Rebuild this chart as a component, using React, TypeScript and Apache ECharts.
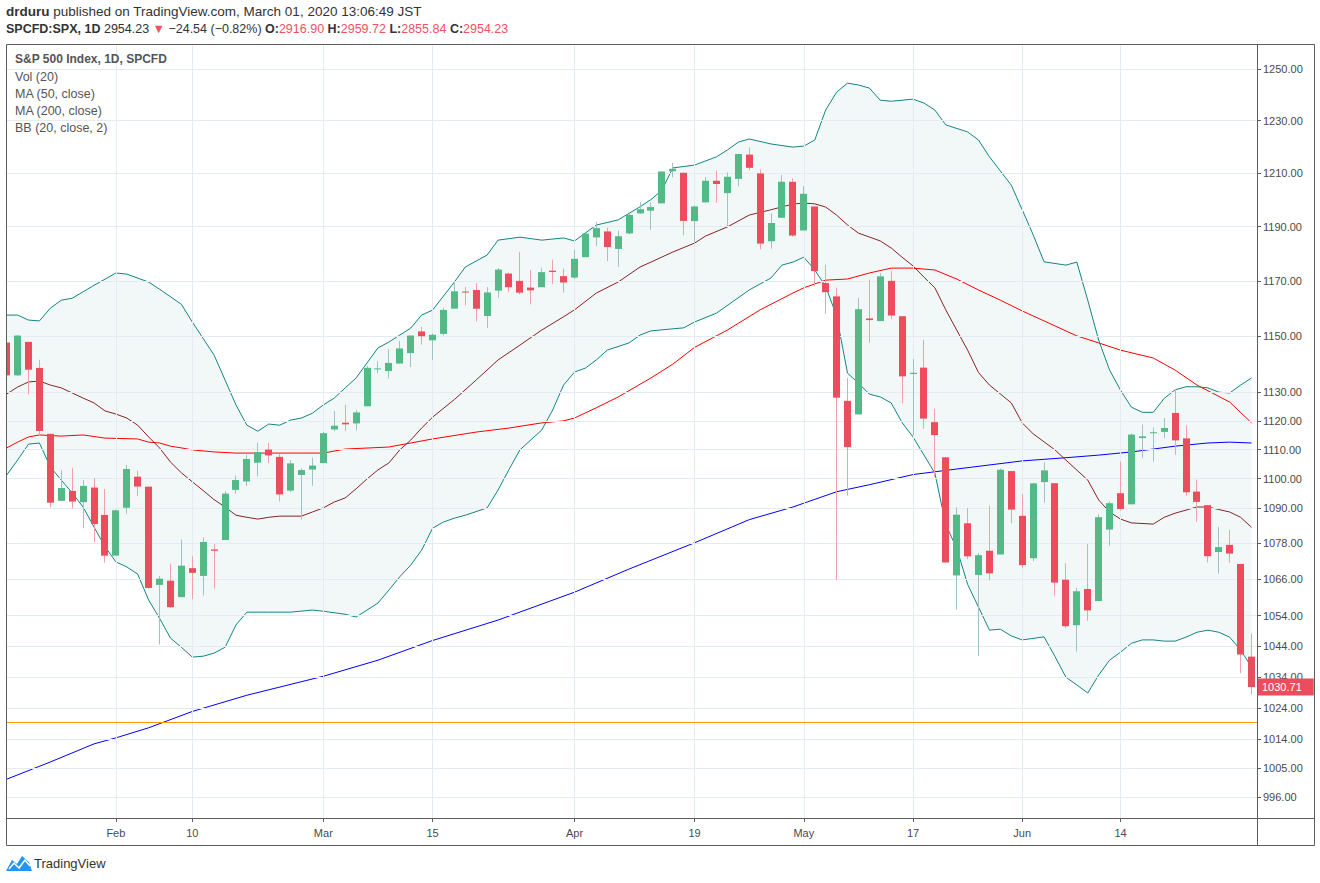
import React, { useEffect, useRef } from 'react';
import * as echarts from 'echarts';

// ---- trading sessions (2010) ----
const janDays = [15, 19, 20, 21, 22, 25, 26, 27, 28, 29];
const febDays = [1, 2, 3, 4, 5, 8, 9, 10, 11, 12, 16, 17, 18, 19, 22, 23, 24, 25, 26];
const marDays = [1, 2, 3, 4, 5, 8, 9, 10, 11, 12, 15, 16, 17, 18, 19, 22, 23, 24, 25, 26, 29, 30, 31];
const aprDays = [1, 5, 6, 7, 8, 9, 12, 13, 14, 15, 16, 19, 20, 21, 22, 23, 26, 27, 28, 29, 30];
const mayDays = [3, 4, 5, 6, 7, 10, 11, 12, 13, 14, 17, 18, 19, 20, 21, 24, 25, 26, 27, 28];
const junDays = [1, 2, 3, 4, 7, 8, 9, 10, 11, 14, 15, 16, 17, 18, 21, 22, 23, 24, 25, 28, 29, 30];

const pad = (n: number) => (n < 10 ? '0' + n : '' + n);
const dates: string[] = [
  ...janDays.map((d) => `2010-01-${pad(d)}`),
  ...febDays.map((d) => `2010-02-${pad(d)}`),
  ...marDays.map((d) => `2010-03-${pad(d)}`),
  ...aprDays.map((d) => `2010-04-${pad(d)}`),
  ...mayDays.map((d) => `2010-05-${pad(d)}`),
  ...junDays.map((d) => `2010-06-${pad(d)}`),
];

// ---- daily OHLC ----
const opens = [
  1147.72, 1136.03, 1147.95, 1138.68, 1115.49, 1092.4, 1095.8, 1091.94, 1096.93, 1087.61,
  1073.89, 1090.05, 1100.67, 1097.25, 1064.12, 1065.51, 1060.06, 1069.68, 1067.1, 1075.95,
  1079.13, 1096.14, 1099.03, 1105.49, 1110.0, 1107.49, 1095.89, 1101.24, 1103.1,
  1105.36, 1117.01, 1119.36, 1119.12, 1125.12, 1138.4, 1137.56, 1140.22, 1143.96, 1151.71,
  1148.53, 1150.83, 1159.94, 1166.13, 1166.68, 1157.25, 1166.47, 1172.7, 1170.03, 1167.58,
  1167.71, 1173.75, 1171.75,
  1171.23, 1178.71, 1186.01, 1188.23, 1181.75, 1187.47, 1194.94, 1195.94, 1198.69, 1210.77,
  1210.17, 1192.06, 1199.04, 1207.16, 1202.52, 1207.87, 1217.07, 1209.92, 1184.59, 1193.3, 1206.77,
  1188.58, 1197.5, 1169.24, 1164.38, 1127.04, 1122.27, 1156.39, 1155.43, 1170.04, 1157.19,
  1136.52, 1138.78, 1119.57, 1107.34, 1067.26, 1084.78, 1067.42, 1075.51, 1074.27, 1102.59,
  1087.3, 1073.01, 1098.82, 1098.43, 1065.84, 1050.81, 1062.75, 1058.77, 1082.65, 1095.0,
  1091.21, 1114.02, 1115.98, 1116.16, 1122.79, 1113.9, 1095.57, 1090.93, 1075.1, 1077.5,
  1071.1, 1040.56,
];
const highs = [
  1147.77, 1150.45, 1147.95, 1141.58, 1115.49, 1102.97, 1103.69, 1099.51, 1100.22, 1096.45,
  1089.38, 1104.73, 1102.72, 1097.25, 1067.13, 1071.2, 1079.28, 1073.67, 1080.04, 1077.81,
  1095.67, 1101.03, 1108.24, 1112.42, 1112.29, 1108.58, 1106.42, 1103.5, 1107.24,
  1116.11, 1123.46, 1125.64, 1123.73, 1139.38, 1141.05, 1145.37, 1148.26, 1150.24, 1153.41,
  1150.98, 1160.28, 1169.84, 1167.77, 1169.2, 1167.82, 1174.72, 1173.04, 1180.69, 1173.93,
  1174.85, 1177.83, 1174.56,
  1181.43, 1187.73, 1191.8, 1189.6, 1188.55, 1194.66, 1199.2, 1199.04, 1210.65, 1213.92,
  1210.17, 1197.87, 1208.58, 1210.99, 1210.27, 1217.28, 1219.8, 1211.38, 1195.05, 1209.36, 1207.99,
  1205.13, 1197.5, 1175.95, 1167.58, 1135.13, 1163.85, 1170.48, 1172.87, 1173.57, 1157.19,
  1141.88, 1148.66, 1124.27, 1107.34, 1090.16, 1089.95, 1074.75, 1090.75, 1103.52, 1102.59,
  1094.77, 1098.56, 1105.67, 1098.43, 1071.36, 1063.15, 1077.74, 1087.85, 1092.25, 1105.91,
  1115.59, 1118.74, 1117.72, 1121.01, 1131.23, 1118.5, 1099.64, 1090.93, 1083.56, 1082.6,
  1071.1, 1048.08,
];
const lows = [
  1131.39, 1135.77, 1129.25, 1114.84, 1090.18, 1092.4, 1089.86, 1083.11, 1078.46, 1071.59,
  1073.89, 1087.96, 1093.97, 1062.78, 1044.5, 1056.51, 1060.06, 1059.34, 1060.59, 1062.97,
  1079.13, 1094.72, 1097.48, 1100.8, 1105.38, 1092.18, 1095.5, 1086.02, 1097.56,
  1105.36, 1116.51, 1116.58, 1116.66, 1125.12, 1136.77, 1134.9, 1140.09, 1138.99, 1146.97,
  1141.45, 1150.35, 1159.94, 1161.16, 1155.33, 1152.88, 1163.83, 1166.01, 1165.09, 1161.48,
  1167.71, 1168.92, 1165.77,
  1170.69, 1178.71, 1182.77, 1177.25, 1175.12, 1187.15, 1194.71, 1188.82, 1198.69, 1208.5,
  1186.77, 1183.68, 1199.04, 1198.85, 1190.19, 1205.1, 1211.07, 1181.62, 1181.81, 1193.3, 1186.32,
  1188.58, 1168.12, 1158.15, 1065.79, 1094.15, 1122.27, 1147.71, 1155.43, 1156.14, 1126.14,
  1114.96, 1117.2, 1100.66, 1071.58, 1055.9, 1072.7, 1040.78, 1065.59, 1074.27, 1084.78,
  1069.89, 1072.03, 1091.81, 1060.5, 1049.86, 1042.17, 1052.25, 1058.77, 1077.12, 1089.03,
  1091.21, 1107.13, 1105.87, 1113.93, 1108.24, 1094.18, 1085.31, 1071.6, 1067.89, 1071.45,
  1035.18, 1028.33,
];
const closes = [
  1136.03, 1150.23, 1138.04, 1116.48, 1091.76, 1096.78, 1092.17, 1097.5, 1084.53, 1073.87,
  1089.19, 1103.32, 1097.28, 1063.11, 1066.19, 1056.74, 1070.52, 1068.13, 1078.47, 1075.51,
  1094.87, 1099.51, 1106.75, 1109.17, 1108.01, 1094.6, 1105.24, 1102.94, 1104.49,
  1115.71, 1118.31, 1118.79, 1122.97, 1138.7, 1138.5, 1140.45, 1145.61, 1150.24, 1149.99,
  1150.51, 1159.46, 1166.21, 1165.83, 1159.9, 1165.81, 1174.17, 1167.72, 1165.73, 1166.59,
  1173.22, 1173.27, 1169.43,
  1178.1, 1187.44, 1189.44, 1182.45, 1186.44, 1194.37, 1196.48, 1197.3, 1210.65, 1211.67,
  1192.13, 1197.52, 1207.17, 1205.94, 1208.67, 1217.28, 1212.05, 1183.71, 1191.36, 1206.78, 1186.69,
  1202.26, 1173.6, 1165.9, 1128.15, 1110.88, 1159.73, 1155.79, 1171.67, 1157.44, 1135.68,
  1136.94, 1120.8, 1115.05, 1071.59, 1087.69, 1073.65, 1074.03, 1067.95, 1103.06, 1089.41,
  1070.71, 1098.38, 1102.83, 1064.88, 1050.47, 1062.0, 1055.69, 1086.84, 1091.6, 1089.63,
  1115.23, 1114.61, 1116.04, 1117.51, 1113.2, 1095.31, 1092.04, 1073.69, 1076.76, 1074.57,
  1041.24, 1030.71,
];

// ---- indicator readings: [session index, price] ----
const bbUpper: [number, number][] = [
  [0, 1157.6], [1, 1157.6], [2, 1155.8], [3, 1155.5], [4, 1160.1], [5, 1163.0], [6, 1163.7], [8, 1168.4],
  [10, 1172.9], [11, 1172.5], [13, 1169.6], [14, 1167.0], [16, 1161.5], [17, 1155.1], [19, 1143.2],
  [20, 1134.4], [21, 1125.6], [22, 1118.5], [23, 1116.4], [24, 1118.9], [25, 1118.5], [26, 1120.3],
  [27, 1121.0], [28, 1122.7], [29, 1125.6], [30, 1128.0], [31, 1131.6], [32, 1135.1], [34, 1145.8],
  [35, 1147.9], [37, 1152.9], [38, 1157.6], [39, 1159.4], [41, 1169.6], [42, 1175.1], [44, 1179.5],
  [45, 1185.0], [47, 1186.1], [49, 1185.0], [51, 1185.8], [52, 1184.7], [54, 1190.6], [56, 1192.5],
  [58, 1197.4], [59, 1200.1], [60, 1203.6], [61, 1212.0], [63, 1213.1], [65, 1216.2], [66, 1218.8],
  [67, 1221.8], [68, 1223.0], [70, 1221.1], [72, 1219.9], [73, 1220.3], [74, 1222.6], [75, 1234.1],
  [76, 1241.0], [77, 1244.5], [78, 1243.8], [79, 1242.6], [80, 1237.9], [81, 1237.5], [83, 1238.3],
  [84, 1236.8], [85, 1234.1], [86, 1228.4], [88, 1225.7], [89, 1222.6], [90, 1216.2], [92, 1205.5],
  [93, 1196.3], [94, 1187.0], [95, 1177.0], [97, 1175.8], [98, 1176.9], [99, 1163.0], [100, 1148.6],
  [101, 1137.9], [102, 1130.8], [103, 1124.8], [104, 1123.0], [105, 1123.0], [106, 1127.9],
  [107, 1130.9], [108, 1132.0], [109, 1132.0], [110, 1131.6], [111, 1130.1], [112, 1129.8],
  [113, 1132.6], [114, 1135.1],
];
const bbBasis: [number, number][] = [
  [0, 1129.4], [1, 1131.9], [2, 1133.7], [3, 1134.0], [4, 1132.6], [5, 1131.6], [6, 1129.8], [7, 1128.0],
  [8, 1126.3], [9, 1123.5], [10, 1122.4], [11, 1121.0], [12, 1118.5], [13, 1114.4], [14, 1110.6],
  [15, 1105.7], [16, 1102.0], [17, 1098.9], [18, 1095.9], [19, 1092.8], [20, 1090.3], [21, 1087.5],
  [22, 1086.8], [23, 1086.2], [24, 1086.8], [25, 1087.2], [27, 1087.2], [28, 1088.6], [29, 1090.0],
  [30, 1092.0], [31, 1093.4], [32, 1096.5], [33, 1099.9], [34, 1103.0], [35, 1105.4], [36, 1109.9],
  [37, 1113.3], [38, 1117.5], [39, 1121.3], [41, 1127.5], [43, 1134.4], [45, 1141.5], [47, 1146.8],
  [49, 1152.2], [51, 1157.0], [52, 1159.5], [54, 1165.6], [56, 1169.6], [58, 1175.1], [59, 1176.9],
  [61, 1180.6], [63, 1183.9], [64, 1186.5], [66, 1189.9], [68, 1194.3], [70, 1196.3], [72, 1198.4],
  [73, 1198.8], [74, 1198.5], [75, 1197.3], [76, 1194.3], [77, 1190.6], [78, 1187.6], [80, 1184.7],
  [81, 1182.1], [82, 1178.7], [83, 1175.5], [84, 1171.4], [85, 1167.5], [86, 1159.5], [87, 1152.2],
  [88, 1145.0], [89, 1137.0], [90, 1132.6], [92, 1126.3], [93, 1119.3], [94, 1115.5], [96, 1109.9],
  [97, 1106.4], [99, 1099.5], [100, 1092.7], [101, 1088.6], [102, 1086.2], [103, 1084.9],
  [105, 1084.5], [106, 1086.8], [107, 1088.2], [109, 1090.3], [110, 1090.3], [112, 1088.6],
  [113, 1086.8], [114, 1083.4],
];
const bbLower: [number, number][] = [
  [0, 1101.2], [1, 1106.4], [2, 1111.9], [3, 1112.3], [4, 1104.0], [5, 1099.5], [6, 1095.1], [7, 1090.3],
  [8, 1083.5], [9, 1076.9], [10, 1071.8], [11, 1070.1], [12, 1067.7], [13, 1059.1], [14, 1053.1],
  [15, 1046.6], [16, 1043.6], [17, 1040.4], [18, 1040.7], [19, 1041.7], [20, 1043.6], [21, 1050.9],
  [22, 1055.1], [24, 1055.1], [26, 1055.1], [28, 1055.8], [29, 1055.4], [31, 1054.4], [32, 1053.5],
  [33, 1055.8], [34, 1058.1], [35, 1062.4], [36, 1066.8], [37, 1070.7], [38, 1075.7], [39, 1083.1],
  [40, 1085.2], [41, 1086.5], [42, 1087.5], [44, 1090.0], [45, 1096.1], [46, 1103.1], [47, 1109.9],
  [49, 1116.8], [50, 1123.8], [51, 1132.6], [52, 1137.2], [53, 1138.6], [54, 1141.5], [55, 1145.0],
  [57, 1147.6], [58, 1150.4], [59, 1151.9], [62, 1153.0], [63, 1155.1], [65, 1158.3], [68, 1166.7],
  [70, 1171.1], [71, 1175.8], [72, 1176.9], [73, 1178.7], [74, 1174.0], [75, 1168.0], [76, 1157.3],
  [77, 1136.8], [78, 1133.3], [79, 1129.4], [80, 1128.4], [81, 1126.3], [82, 1119.4], [83, 1114.4],
  [84, 1108.1], [85, 1101.9], [86, 1084.3], [87, 1076.3], [88, 1064.3], [90, 1049.2], [91, 1049.5],
  [92, 1047.3], [93, 1046.0], [95, 1047.0], [96, 1040.6], [97, 1033.9], [98, 1031.4], [99, 1028.8],
  [100, 1034.6], [101, 1039.4], [102, 1042.0], [103, 1044.9], [104, 1046.0], [105, 1046.0],
  [106, 1045.6], [107, 1045.6], [108, 1046.9], [109, 1048.5], [110, 1049.2], [111, 1048.5],
  [112, 1046.9], [113, 1042.7], [114, 1037.2],
];
const ma50: [number, number][] = [
  [0, 1110.6], [1, 1112.6], [2, 1114.4], [3, 1115.1], [5, 1114.7], [7, 1115.1], [9, 1114.0], [12, 1113.7],
  [13, 1112.6], [14, 1112.3], [15, 1111.2], [16, 1110.6], [17, 1109.9], [19, 1109.2], [21, 1108.8],
  [24, 1108.8], [29, 1108.8], [31, 1110.2], [35, 1110.9], [39, 1113.7], [43, 1116.1], [46, 1117.5],
  [49, 1119.3], [51, 1120.0], [52, 1121.0], [54, 1124.6], [56, 1128.4], [59, 1135.1], [61, 1140.0],
  [63, 1146.0], [66, 1152.2], [69, 1159.5], [72, 1165.6], [73, 1167.5], [75, 1170.3], [77, 1170.7],
  [79, 1172.9], [81, 1174.7], [83, 1174.7], [85, 1174.0], [87, 1170.7], [89, 1166.7], [91, 1163.0],
  [93, 1159.1], [95, 1155.5], [98, 1150.1], [100, 1147.6], [102, 1145.0], [105, 1142.2],
  [107, 1137.9], [109, 1132.6], [112, 1126.6], [114, 1119.3],
];
const ma200: [number, number][] = [
  [0, 1001.5], [4, 1006.9], [8, 1012.6], [10, 1014.5], [13, 1017.7], [17, 1022.9], [22, 1028.1],
  [29, 1034.2], [34, 1039.4], [39, 1045.8], [45, 1052.5], [52, 1061.7], [57, 1069.4], [63, 1078.2],
  [68, 1086.0], [72, 1090.3], [76, 1095.5], [79, 1097.9], [83, 1101.4], [87, 1103.3], [93, 1106.1],
  [97, 1107.2], [100, 1108.1], [103, 1109.2], [107, 1111.2], [110, 1112.3], [112, 1112.6], [114, 1112.3],
];

// ---- axes ----
const priceTicks = [1250, 1230, 1210, 1190, 1170, 1150, 1130, 1120, 1110, 1100, 1090, 1078, 1066, 1054, 1044, 1034, 1024, 1014, 1005, 996];
const timeLabels: [string, string][] = [
  ['2010-02-01', 'Feb'], ['2010-02-10', '10'], ['2010-03-01', 'Mar'], ['2010-03-15', '15'],
  ['2010-04-01', 'Apr'], ['2010-04-19', '19'], ['2010-05-03', 'May'], ['2010-05-17', '17'],
  ['2010-06-01', 'Jun'], ['2010-06-14', '14'],
];
const PRICE_LOW = 989.45;
const PRICE_HIGH = 1259.8;
const horizontalLevel = 1019.4;
const lastPrice = 1030.71;

const UP = '#53b987';
const DOWN = '#eb4d5c';
const WICK_UP = '#9fc2c6';
const WICK_DOWN = '#f3a0a9';
const GRID = '#e4ecf1';
const FRAME = '#5d5d5d';
const FONT = '"Liberation Sans", Arial, sans-serif';

const L = Math.log;

export default function App() {
  const ref = useRef<HTMLDivElement>(null);

  useEffect(() => {
    if (!ref.current) return;
    const chart = echarts.init(ref.current, undefined, { renderer: 'svg' });
    const labelMap: Record<string, string> = {};
    timeLabels.forEach(([d, t]) => (labelMap[d] = t));

    const lineSeries = (name: string, pts: [number, number][], color: string, z: number) => ({
      type: 'line',
      name,
      data: pts.map(([i, v]) => [i, L(v)]),
      showSymbol: false,
      symbol: 'none',
      lineStyle: { color, width: 1 },
      z,
      silent: true,
    });

    const candleData = dates.map((_, i) => [i, L(opens[i]), L(closes[i]), L(lows[i]), L(highs[i])]);

    const option: any = {
      animation: false,
      backgroundColor: '#ffffff',
      grid: { left: 1.2, right: 63, top: 44, bottom: 65, containLabel: false },
      xAxis: {
        type: 'category',
        data: dates,
        boundaryGap: true,
        axisLine: { show: false },
        axisTick: {
          show: true,
          alignWithLabel: true,
          interval: (_i: number, v: string) => labelMap[v] !== undefined,
          length: 4,
          lineStyle: { color: FRAME },
        },
        axisLabel: {
          interval: (_i: number, v: string) => labelMap[v] !== undefined,
          formatter: (v: string) => labelMap[v] || '',
          color: '#4a4a4a',
          fontSize: 11,
          fontFamily: FONT,
          margin: 9,
        },
        splitLine: { show: false },
      },
      yAxis: {
        type: 'value',
        position: 'right',
        min: L(PRICE_LOW),
        max: L(PRICE_HIGH),
        scale: true,
        axisLine: { show: false },
        axisTick: {
          show: true,
          length: 4,
          customValues: priceTicks.map((p) => L(p)),
          lineStyle: { color: FRAME },
        },
        axisLabel: {
          customValues: priceTicks.map((p) => L(p)),
          formatter: (v: number) => Math.exp(v).toFixed(2),
          color: '#4a4a4a',
          fontSize: 11,
          fontFamily: FONT,
          margin: 6,
        },
        splitLine: { show: false },
      },
      series: [
        {
          type: 'custom',
          name: 'BB fill',
          data: [[0, L(1100)]],
          z: 1,
          silent: true,
          clip: true,
          renderItem: (_p: any, api: any) => {
            const top = bbUpper.map(([i, v]) => api.coord([i, L(v)]));
            const bottom = bbLower.slice().reverse().map(([i, v]) => api.coord([i, L(v)]));
            return {
              type: 'polygon',
              shape: { points: top.concat(bottom) },
              style: { fill: 'rgba(25,135,135,0.055)' },
            };
          },
          markLine: {
            silent: true,
            precision: 12,
            symbol: ['none', 'none'],
            label: { show: false },
            lineStyle: { color: GRID, type: 'solid', width: 1 },
            data: [
              ...priceTicks.map((p) => ({ yAxis: L(p) })),
              ...timeLabels.map(([d]) => ({ xAxis: d })),
            ],
          },
        },
        lineSeries('MA 200', ma200, '#0000ff', 3),
        lineSeries('MA 50', ma50, '#ff0000', 3),
        lineSeries('BB basis', bbBasis, '#872323', 3),
        lineSeries('BB upper', bbUpper, '#138484', 3),
        lineSeries('BB lower', bbLower, '#138484', 3),
        {
          type: 'custom',
          name: 'SPX',
          data: candleData,
          encode: { x: 0, y: [1, 2, 3, 4] },
          z: 5,
          clip: true,
          renderItem: (_p: any, api: any) => {
            const i = api.value(0);
            const o = api.value(1);
            const c = api.value(2);
            const pO = api.coord([i, o]);
            const pC = api.coord([i, c]);
            const pL = api.coord([i, api.value(3)]);
            const pH = api.coord([i, api.value(4)]);
            const band = api.size([1, 0])[0];
            const bw = Math.max(1, Math.round(band * 0.64));
            const cx = Math.round(pO[0] - 0.5) + 0.5;
            const up = c >= o;
            const top = Math.min(pO[1], pC[1]);
            const h = Math.max(1, Math.abs(pO[1] - pC[1]));
            return {
              type: 'group',
              children: [
                {
                  type: 'line',
                  shape: { x1: cx, y1: pH[1], x2: cx, y2: pL[1] },
                  style: { stroke: up ? WICK_UP : WICK_DOWN, lineWidth: 1 },
                },
                {
                  type: 'rect',
                  shape: { x: cx - bw / 2, y: top, width: bw, height: h },
                  style: { fill: up ? UP : DOWN },
                },
              ],
            };
          },
          markLine: {
            silent: true,
            precision: 12,
            symbol: ['none', 'none'],
            data: [
              {
                yAxis: L(horizontalLevel),
                lineStyle: { color: '#ff9800', width: 1, type: 'solid' },
                label: { show: false },
              },
              {
                yAxis: L(lastPrice),
                lineStyle: { color: 'rgba(0,0,0,0)', width: 1 },
                label: {
                  show: true,
                  position: 'end',
                  distance: 0,
                  formatter: lastPrice.toFixed(2),
                  color: '#ffffff',
                  backgroundColor: DOWN,
                  fontSize: 11,
                  fontFamily: FONT,
                  lineHeight: 13,
                  padding: [2, 12, 2, 5],
                },
              },
            ],
          },
        },
      ],
      graphic: [
        // mask for the part of the plot left of the frame
        { type: 'rect', z: 90, silent: true, shape: { x: 0, y: 40, width: 6, height: 810 }, style: { fill: '#ffffff' } },
        // chart frame and pane separators
        { type: 'rect', z: 100, silent: true, shape: { x: 6.5, y: 44.5, width: 1308, height: 801 }, style: { fill: 'none', stroke: FRAME, lineWidth: 1 } },
        { type: 'line', z: 100, silent: true, shape: { x1: 1257.5, y1: 44.5, x2: 1257.5, y2: 845.5 }, style: { stroke: FRAME, lineWidth: 1 } },
        { type: 'line', z: 100, silent: true, shape: { x1: 6.5, y1: 818.5, x2: 1314.5, y2: 818.5 }, style: { stroke: FRAME, lineWidth: 1 } },
        // header
        {
          type: 'text', left: 6, top: 4, z: 100,
          style: {
            text: '{b|drduru} published on TradingView.com, March 01, 2020 13:06:49 JST',
            fontSize: 13.5, fontFamily: FONT, fill: '#333333',
            rich: { b: { fontWeight: 'bold', fontSize: 13.5, fontFamily: FONT, fill: '#333333' } },
          },
        },
        {
          type: 'text', left: 6, top: 22, z: 100,
          style: {
            text: '{b|SPCFD:SPX, 1D} 2954.23 {r|▼} −24.54 (−0.82%) {b|O:}{r|2916.90} {b|H:}{r|2959.72} {b|L:}{r|2855.84} {b|C:}{r|2954.23}',
            fontSize: 12.5, fontFamily: FONT, fill: '#333333',
            rich: {
              b: { fontWeight: 'bold', fontSize: 12.5, fontFamily: FONT, fill: '#333333' },
              r: { fontSize: 12.5, fontFamily: FONT, fill: '#f0525f' },
            },
          },
        },
        // study legend
        { type: 'text', left: 15, top: 53, z: 100, style: { text: 'S&P 500 Index, 1D, SPCFD', fontSize: 12, fontWeight: 'bold', fontFamily: FONT, fill: '#555555' } },
        { type: 'text', left: 15, top: 70, z: 100, style: { text: 'Vol (20)', fontSize: 12.5, fontFamily: FONT, fill: '#555555' } },
        { type: 'text', left: 15, top: 87, z: 100, style: { text: 'MA (50, close)', fontSize: 12.5, fontFamily: FONT, fill: '#555555' } },
        { type: 'text', left: 15, top: 104, z: 100, style: { text: 'MA (200, close)', fontSize: 12.5, fontFamily: FONT, fill: '#555555' } },
        { type: 'text', left: 15, top: 121, z: 100, style: { text: 'BB (20, close, 2)', fontSize: 12.5, fontFamily: FONT, fill: '#555555' } },
        // footer logo
        {
          type: 'polygon', z: 100, silent: true,
          shape: { points: [[6, 871], [12, 860], [17, 864], [22, 856], [29, 862], [32, 871]] },
          style: { fill: '#2196f3' },
        },
        {
          type: 'polyline', z: 101, silent: true,
          shape: { points: [[9, 869], [14, 863], [19, 868], [25, 860], [30, 866]] },
          style: { stroke: '#ffffff', lineWidth: 1.5, fill: 'none' },
        },
        { type: 'text', left: 34, top: 857, z: 100, style: { text: 'TradingView', fontSize: 13, fontFamily: FONT, fill: '#333333' } },
      ],
    };

    chart.setOption(option);
    return () => chart.dispose();
  }, []);

  return (
    <div
      ref={ref}
      style={{ position: 'absolute', left: 0, top: 0, width: 1320, height: 883, background: '#ffffff' }}
    />
  );
}
